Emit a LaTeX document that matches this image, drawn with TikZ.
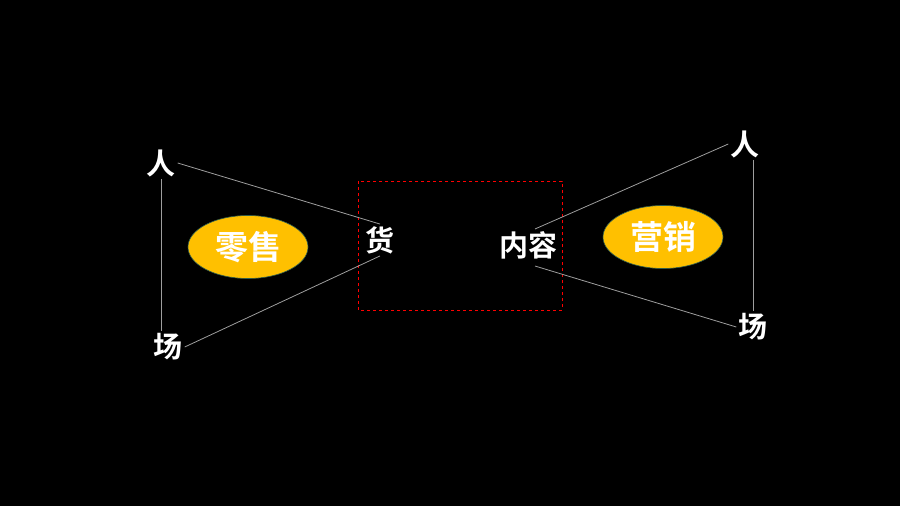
\documentclass[tikz,border=0pt]{standalone}
\usepackage{fontspec}
\usepackage{tikz}
\usetikzlibrary{shapes.geometric}
\newfontfamily\cjk{Noto Sans CJK SC}[BoldFont={Noto Sans CJK SC Bold}]
\definecolor{gold}{HTML}{FFC000}
\definecolor{rimgreen}{HTML}{2E5E4E}
\tikzstyle{word}=[text=white,inner sep=2pt,font=\cjk\bfseries\fontsize{29}{31}\selectfont]
\tikzstyle{blob}=[ellipse,fill=gold,draw=rimgreen,line width=0.6pt,minimum width=120pt,minimum height=63pt,inner sep=0pt,text=white,font=\cjk\bfseries\fontsize{33}{35}\selectfont]
\tikzstyle{wire}=[draw=white!62!black,line width=0.8pt]

\begin{document}
\begin{tikzpicture}[x=1pt,y=-1pt]
    \fill[black] (0,0) rectangle (900,506);
    \useasboundingbox (0,0) rectangle (900,506);
    \draw[red,dashed,line width=0.8pt] (358,181) rectangle (562,310);
    \node[word] (renL) at (161,163) {人};
    \node[word] (changL) at (168,347) {场};
    \node[word] (huo) at (380,240) {货};
    \node[word] (neirong) at (528,245) {内容};
    \node[word] (renR) at (745,144) {人};
    \node[word] (changR) at (753,327) {场};
    \node[blob] (lingshou) at (248,247) {零售};
    \node[blob] (yingxiao) at (663,237) {营销};

    \foreach \from/\to in {renL.east/huo.north,changL.east/huo.south}
    \draw[wire] (\from) -- (\to);
    \draw[wire] ([xshift=7pt]neirong.north) -- (renR.west);
    \draw[wire] ([xshift=7pt,yshift=-5pt]neirong.south) -- (changR.west);
    \draw[wire] (renL.south) -- (renL.south |- changL.north);
    \draw[wire] (changR.north |- renR.south) -- (changR.north);
\end{tikzpicture}
\end{document}
